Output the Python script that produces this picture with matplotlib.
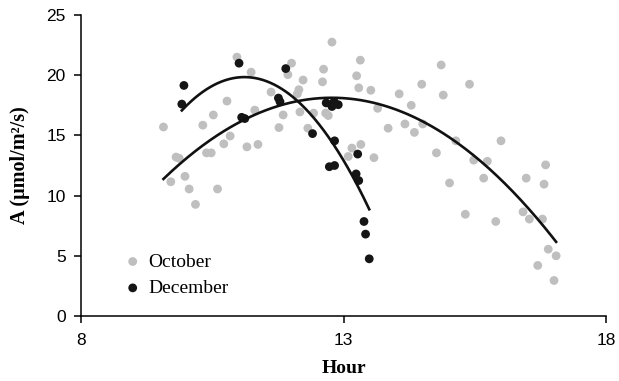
import numpy as np
import matplotlib.pyplot as plt

# October measurements (hour, A)
oct_hour = [9.57, 9.81, 9.87, 9.71, 9.98, 10.06, 10.18, 10.32, 10.52, 10.39, 10.48, 10.60,
            10.72, 10.84, 10.78, 10.97, 11.24, 11.16, 11.37, 11.31, 11.62, 11.77, 11.85, 11.94,
            12.01, 12.15, 12.12, 12.23, 12.17, 12.32, 12.43, 12.62, 12.60, 12.66, 12.71, 12.78,
            13.09, 13.16, 13.33, 13.58, 13.32, 13.25, 13.29, 13.52, 13.65, 13.85, 14.06, 14.29,
            14.17, 14.35, 14.49, 14.51, 14.86, 14.90, 15.14, 14.77, 15.02, 15.40, 15.48, 15.74,
            15.67, 16.00, 15.32, 15.90, 16.42, 16.54, 16.79, 16.48, 16.85, 16.82, 16.90, 17.05,
            16.70, 17.01]
oct_a = [15.7, 13.2, 13.1, 11.15, 11.6, 10.55, 9.27, 15.85, 16.7, 13.55, 13.55, 10.55,
         14.3, 14.95, 17.85, 21.5, 20.25, 14.05, 14.25, 17.1, 18.6, 15.65, 16.7, 20.05,
         21.0, 18.8, 18.45, 19.6, 16.95, 15.6, 16.85, 20.5, 19.45, 16.85, 16.65, 22.75,
         13.25, 13.95, 14.25, 13.15, 21.25, 19.95, 18.95, 18.75, 17.25, 15.6, 18.45, 17.5,
         15.95, 15.25, 19.25, 15.95, 20.85, 18.35, 14.55, 13.55, 11.05, 19.25, 12.95, 12.85,
         11.45, 14.55, 8.45, 7.85, 8.65, 8.05, 8.05, 11.45, 12.55, 10.95, 5.55, 5.0,
         4.2, 2.95]

# December measurements
dec_hour = [9.96, 9.92, 11.01, 11.06, 11.12, 11.90, 11.76, 11.79, 12.41, 12.67, 12.78,
            12.90, 12.82, 12.83, 12.73, 12.83, 13.27, 13.24, 13.29, 13.39, 13.42, 13.49]
dec_a = [19.15, 17.6, 21.0, 16.5, 16.4, 20.55, 18.1, 17.8, 15.15, 17.7, 17.4,
         17.55, 17.8, 14.55, 12.4, 12.5, 13.45, 11.8, 11.25, 7.85, 6.8, 4.75]

x_ticks = [8, 13, 18]
y_ticks = [0, 5, 10, 15, 20, 25]

fig = plt.figure(figsize=(6.19, 3.81), dpi=100)
ax = fig.add_axes([0.1309, 0.1706, 0.979 - 0.1309, 0.9606 - 0.1706])

ax.scatter(oct_hour, oct_a, s=40, color='#bfbfbf', edgecolors='none', label='October', zorder=2)
ax.scatter(dec_hour, dec_a, s=40, color='#151515', edgecolors='none', label='December', zorder=3)

# second order polynomial trend lines
for h, a in [(oct_hour, oct_a), (dec_hour, dec_a)]:
    coef = np.polyfit(h, a, 2)
    xs = np.linspace(min(h), max(h), 200)
    ax.plot(xs, np.polyval(coef, xs), color='#111111', lw=1.9, zorder=4)

ax.set_xlim(8, 18)
ax.set_ylim(0, 25)
ax.set_xticks(x_ticks)
ax.set_yticks(y_ticks)
ax.spines['top'].set_visible(False)
ax.spines['right'].set_visible(False)
for s in ['left', 'bottom']:
    ax.spines[s].set_linewidth(1.1)
ax.tick_params(direction='out', length=5, width=1.1, labelsize=12.5, pad=6)
ax.tick_params(axis='x', pad=7)
for lab in ax.get_xticklabels() + ax.get_yticklabels():
    lab.set_family('Liberation Sans')

ax.set_xlabel('Hour', family='Liberation Serif', fontweight='bold', fontsize=14, labelpad=9)
ax.set_ylabel('A (μmol/m²/s)', family='Liberation Serif', fontweight='bold', fontsize=14.5, labelpad=12)

ax.legend(loc='lower left', bbox_to_anchor=(0.054, 0.018), frameon=False,
          prop={'family': 'Liberation Serif', 'size': 14}, handlelength=1.0,
          handletextpad=0.3, labelspacing=0.45, borderpad=0.2)

fig.savefig('out.png', dpi=100)
